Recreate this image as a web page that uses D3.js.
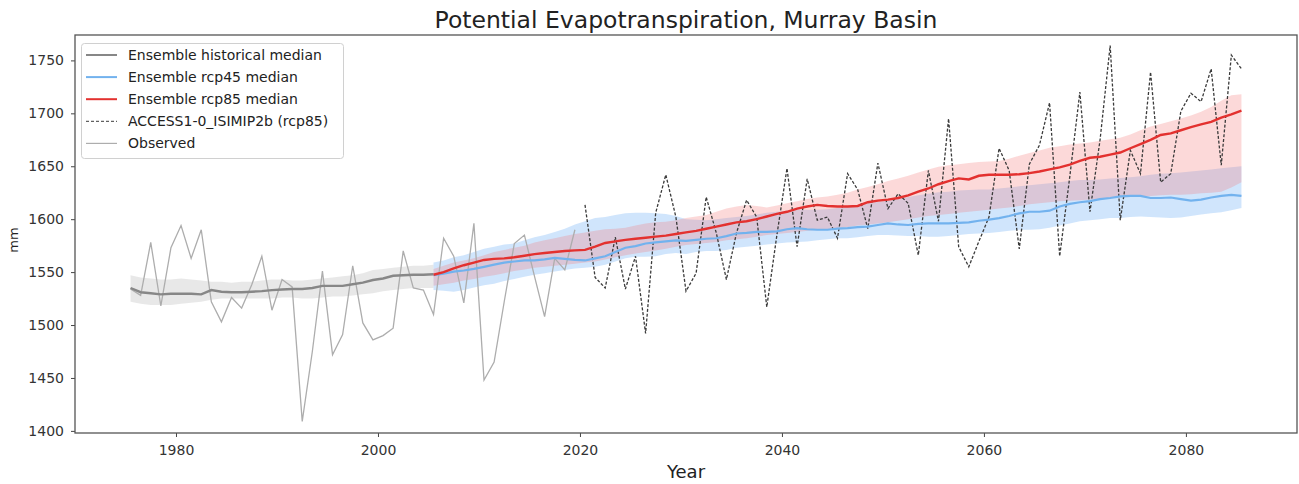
<!DOCTYPE html>
<html><head><meta charset="utf-8">
<script src="https://cdn.jsdelivr.net/npm/d3@7"></script>
<style>
body{margin:0;background:#fff;}
svg{display:block;font-family:"DejaVu Sans",sans-serif;}
</style>
</head><body>
<svg id="chart" width="1299" height="484"></svg>
<script>
// ---------- DATA ----------
const histYears = d3.range(1975, 2006);
const histMedian = [1535,1531,1530,1529,1529.5,1529.5,1529.5,1529,1533,1531.5,
  1531,1531,1531.5,1532,1533,1533.5,1534,1534,1535,1537,
  1537,1537,1538.5,1540,1542.5,1544,1546.5,1547,1547.5,1547.5,1548];
const histHigh = [1547,1545,1544,1543,1543,1544,1543,1542,1541,1541,
  1540,1541,1541,1542,1543,1543,1542,1542,1543,1544,
  1545,1546,1547,1549,1552,1553,1554,1555,1556,1556,1557];
const histLow = [1522,1520,1519,1519,1519,1520,1521,1522,1524,1525,
  1525,1525,1525,1525,1525,1526,1526,1525,1525,1526,
  1527,1527,1528,1529,1530,1532,1533,1534,1535,1535,1535];

const obsYears = d3.range(1975, 2020);
const observed = [1534,1528,1578,1518,1573,1594,1563,1590,1522,1503,
  1526,1516,1538,1565,1514,1543,1536,1409,1475,1551,
  1472,1491,1556,1502,1486,1490,1497,1570,1535,1533,
  1510,1582,1565,1521,1596,1448,1465,1522,1577,1585,
  1546,1508,1563,1552,1590];

const projYears = d3.range(2005, 2086);
const rcp85Median = [1547.5,1550,1553.5,1556.5,1559,1561.5,1562.5,1563,1564,1565.5,
  1567,1568,1569,1570,1570.5,1571,1574,1577.5,1579,1580.5,
  1581.5,1582.5,1583.5,1584.5,1586,1587.5,1589,1591,1593,1595,
  1597,1598,1600,1602.5,1605,1607,1610,1612,1613.5,1612.5,
  1612,1612,1612.5,1616,1617.5,1618.5,1620,1622.5,1626,1629,
  1633,1636,1638.5,1637.5,1641,1642,1642,1642,1642.5,1643.5,
  1645,1647,1649,1651.5,1655,1658,1659,1661,1663,1667,
  1671,1675,1679.5,1681,1684,1687,1689.5,1692,1696,1699,1702.5];
const rcp85High = [1553,1556,1559,1561,1563,1566,1569,1571,1573,1575,
  1578,1580,1582,1584,1586,1587.5,1589,1590.5,1591,1592,
  1594,1596,1597,1597.5,1599,1601,1602.5,1604,1607,1610,
  1612,1613.5,1612.5,1611,1613,1615,1617,1619,1620.5,1621.5,
  1623,1625,1628,1630.5,1633,1636,1638.5,1641,1644,1647,
  1649.5,1651,1652,1653,1654,1654.5,1655,1657,1660,1662.5,
  1665,1667.5,1669,1670.5,1671.5,1672.5,1674,1675.5,1677,1680,
  1684,1687.5,1690,1692.5,1695,1698,1701.5,1706,1712,1717,1718];
const rcp85Low = [1537,1538.5,1540,1542,1543.5,1545.5,1547,1549,1551,1552.5,
  1554,1555,1556,1557,1558,1559,1560,1562,1564,1566,
  1567.5,1569,1570.5,1572,1574,1575.5,1576.5,1577.5,1578.5,1580,
  1581,1582,1583.5,1585,1586,1587,1588,1589,1590,1590.5,
  1591.5,1592.5,1594,1595,1596,1597,1598.5,1600,1601.5,1603,
  1604,1605,1606,1607,1608,1609,1610,1611,1612.5,1614,
  1615,1616,1617,1617.5,1618,1618.5,1619,1620,1620.5,1621,
  1621.5,1622,1622.5,1623,1623,1623.5,1624.5,1625,1626,1630,1635];
const rcp45Median = [1547,1548.5,1550.5,1551.5,1553,1555,1557,1559,1560,1561,
  1561,1562,1563.5,1562.5,1561.5,1561,1563,1565,1569,1573,
  1574.5,1577,1578,1579,1580,1579.5,1580.5,1581.5,1582,1584,
  1586.5,1587,1588,1588,1588.5,1590.5,1591.5,1590.5,1590,1590,
  1591,1591.5,1592.5,1593,1594.5,1596,1595,1594.5,1595.5,1596,
  1596,1596,1596.5,1597,1598.5,1599.5,1601,1603,1605.5,1607,
  1607,1608,1612,1614.5,1616,1617,1619,1620,1621.5,1622,
  1622,1620,1620,1620.5,1619,1617.5,1618.5,1620.5,1622,1623,1622];
const rcp45High = [1559,1561,1564,1566,1569,1572,1574,1576,1577,1580,
  1583,1585,1588,1591,1595,1598,1601,1602,1604,1605.5,
  1606,1606,1605.5,1605,1603,1600,1599.5,1599,1600,1601,
  1602,1603,1604.5,1606,1607,1608,1609,1609,1609,1609.5,
  1610.5,1612,1613,1615,1616.5,1617.5,1619,1621,1622.5,1624,
  1625.5,1626,1627,1627.5,1628,1628,1629,1630,1631,1632,
  1633,1634,1635,1636,1637,1637,1637.5,1638.5,1639,1639.5,
  1640.5,1642,1643,1643.5,1644,1645,1646,1647,1648,1649,1650];
const rcp45Low = [1533,1532.5,1531.5,1533,1535.5,1537.5,1539,1541.5,1543.5,1545.5,
  1547.5,1549,1550.5,1552,1553.5,1554,1555,1557,1560,1563,
  1564.5,1564.5,1565,1567,1568,1567,1569,1570,1570,1571,
  1573,1574,1575,1576,1577,1578,1578.5,1579,1580,1581,
  1582,1582,1583,1584,1585,1585,1584.5,1584,1584,1583.5,
  1583.5,1584,1585,1586,1586.5,1587,1588,1589,1590,1590,
  1590.5,1592,1594,1596,1598,1599,1600,1601,1601,1602,
  1602.5,1602,1601.5,1601,1601.5,1603,1604.5,1605.5,1606.5,1608.5,1610.5];

const accessYears = d3.range(2020, 2086);
const access = [1613.5,1545,1535,1583,1534,1565,1492,1606,1642,1602,
  1532,1549,1621,1587,1543,1587,1618,1602,1517,1585,
  1648,1574,1638,1599,1602,1582,1643,1628,1591,1653,
  1610,1624,1615,1566,1646,1598,1695,1574,1555,1579,
  1602,1667,1646,1572,1652,1670,1710,1565,1640,1720,
  1607,1675,1764,1599,1665,1643,1739,1635,1643,1702,
  1719,1711,1742,1651,1755,1742];

const xTicks = [1980, 2000, 2020, 2040, 2060, 2080];
const yTicks = [1400, 1450, 1500, 1550, 1600, 1650, 1700, 1750];
const legendLabels = ["Ensemble historical median", "Ensemble rcp45 median",
  "Ensemble rcp85 median", "ACCESS1-0_ISIMIP2b (rcp85)", "Observed"];

// ---------- CHART ----------
(function () {
const svg = d3.select("#chart");
const L = 75, R = 1297, T = 35, B = 433;
const x = d3.scaleLinear().domain([1970, 2091]).range([L, R]);
const y = d3.scaleLinear().domain([1398, 1774]).range([B, T]);
const xv = yr => x(yr + 0.5); // annual values plotted mid-year

const zip = (yrs, ...arrs) => yrs.map((yr, i) => ({yr, v: arrs.map(a => a[i])}));

const area = d3.area().x(d => xv(d.yr)).y0(d => y(d.v[0])).y1(d => y(d.v[1]));
const line = d3.line().x(d => xv(d.yr)).y(d => y(d.v[0]));

const g = svg.append("g");
g.append("defs").append("clipPath").attr("id", "clip")
  .append("rect").attr("x", L).attr("y", T).attr("width", R - L).attr("height", B - T);
const plot = g.append("g").attr("clip-path", "url(#clip)");

// bands
plot.append("path").datum(zip(histYears, histLow, histHigh)).attr("d", area)
  .attr("fill", "rgba(160,160,160,0.24)");
plot.append("path").datum(zip(projYears, rcp45Low, rcp45High)).attr("d", area)
  .attr("fill", "rgba(120,180,245,0.35)");
plot.append("path").datum(zip(projYears, rcp85Low, rcp85High)).attr("d", area)
  .attr("fill", "rgba(245,120,120,0.28)");

// observed
plot.append("path").datum(zip(obsYears, observed)).attr("d", line)
  .attr("fill", "none").attr("stroke", "#adadad").attr("stroke-width", 1.3);
// ACCESS dashed
plot.append("path").datum(zip(accessYears, access)).attr("d", line)
  .attr("fill", "none").attr("stroke", "#3a3a3a").attr("stroke-width", 1.3)
  .attr("stroke-dasharray", "3,1.8");
// medians
plot.append("path").datum(zip(histYears, histMedian)).attr("d", line)
  .attr("fill", "none").attr("stroke", "#878787").attr("stroke-width", 2.4);
plot.append("path").datum(zip(projYears, rcp45Median)).attr("d", line)
  .attr("fill", "none").attr("stroke", "#72b2ee").attr("stroke-width", 2.2);
plot.append("path").datum(zip(projYears, rcp85Median)).attr("d", line)
  .attr("fill", "none").attr("stroke", "#e3312f").attr("stroke-width", 2.4);

// axes
const xAxis = g.append("g").attr("transform", `translate(0,${B})`)
  .call(d3.axisBottom(x).tickValues(xTicks).tickFormat(d3.format("d")).tickSize(4).tickPadding(8));
const yAxis = g.append("g").attr("transform", `translate(${L},0)`)
  .call(d3.axisLeft(y).tickValues(yTicks).tickFormat(d3.format("d")).tickSize(4).tickPadding(7));
[xAxis, yAxis].forEach(a => {
  a.select(".domain").remove();
  a.selectAll("line").attr("stroke", "#444");
  a.selectAll("text").attr("fill", "#333").style("font-size", "14px").style("font-family", "DejaVu Sans");
});
g.append("rect").attr("x", L).attr("y", T).attr("width", R - L).attr("height", B - T)
  .attr("fill", "none").attr("stroke", "#555").attr("stroke-width", 1.3);

// labels
g.append("text").attr("x", (L + R) / 2).attr("y", 28).attr("text-anchor", "middle")
  .style("font-size", "23.5px").attr("fill", "#222").text("Potential Evapotranspiration, Murray Basin");
g.append("text").attr("x", (L + R) / 2).attr("y", 478).attr("text-anchor", "middle")
  .style("font-size", "18px").attr("fill", "#222").text("Year");
g.append("text").attr("transform", "translate(18,240) rotate(-90)").attr("text-anchor", "middle")
  .style("font-size", "13px").attr("fill", "#222").text("mm");

// legend
const lg = g.append("g");
lg.append("rect").attr("x", 81.5).attr("y", 43.5).attr("width", 262).attr("height", 115).attr("rx", 3)
  .attr("fill", "rgba(255,255,255,0.85)").attr("stroke", "#d0d0d0");
const styles = [
  {c: "#878787", w: 2, d: null},
  {c: "#72b2ee", w: 2, d: null},
  {c: "#e3312f", w: 2, d: null},
  {c: "#3a3a3a", w: 1, d: "3,2"},
  {c: "#adadad", w: 1.2, d: null}
];
legendLabels.forEach((t, i) => {
  const yy = 55 + i * 22.1;
  lg.append("line").attr("x1", 86).attr("x2", 117).attr("y1", yy).attr("y2", yy)
    .attr("stroke", styles[i].c).attr("stroke-width", styles[i].w).attr("stroke-dasharray", styles[i].d);
  lg.append("text").attr("x", 128).attr("y", yy + 5).style("font-size", "14px").attr("fill", "#222").text(t);
});
})();
</script>
</body></html>
